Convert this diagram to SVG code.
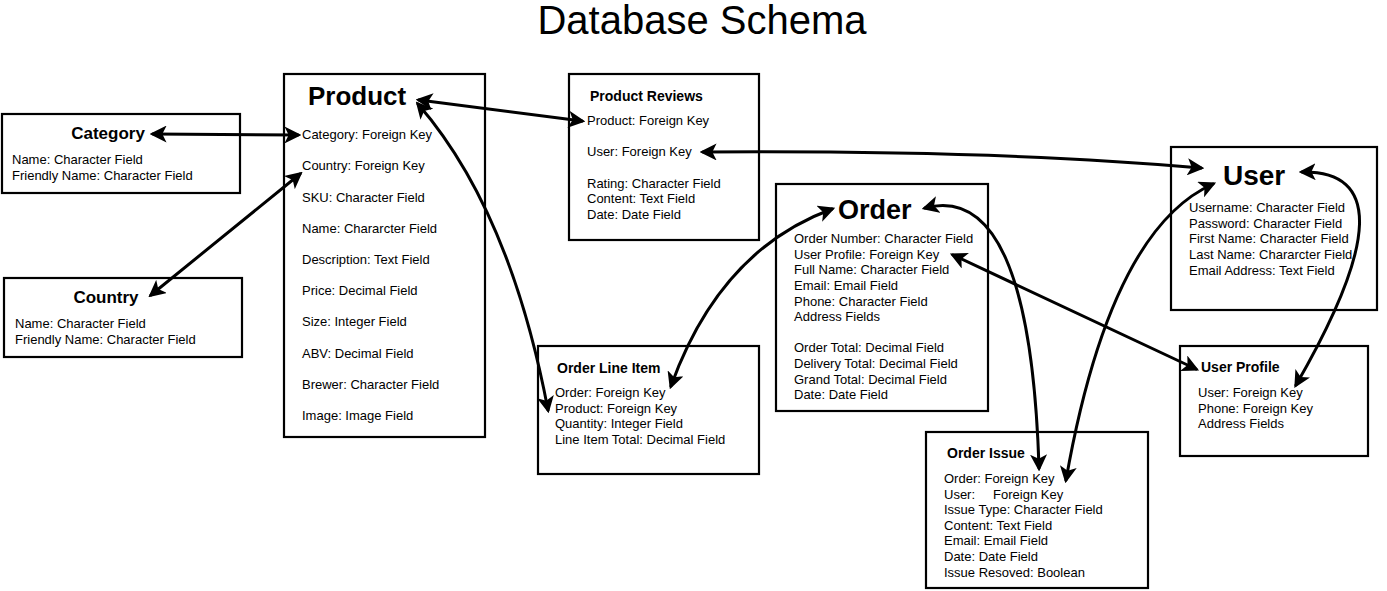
<svg xmlns="http://www.w3.org/2000/svg" width="1387" height="591" viewBox="0 0 1387 591">
<style>
.box{fill:#fff;stroke:#000;stroke-width:2.2}
text{font-family:"Liberation Sans",Arial,sans-serif;fill:#000}
.f{font-size:13px}
.h{font-weight:bold;font-size:14px}
.big{font-weight:bold;font-size:27px}
.mid{font-weight:bold;font-size:17px}
.c{fill:none;stroke:#000;stroke-width:3;stroke-linecap:round}
</style>
<defs>
<marker id="ah" viewBox="0 0 10 10" refX="8" refY="5" markerUnits="userSpaceOnUse" markerWidth="17" markerHeight="17" orient="auto-start-reverse">
<path d="M0,0 L10,5 L0,10 L2.5,5 Z" fill="#000"/>
</marker>
</defs>
<text x="702" y="34" text-anchor="middle" style="font-size:40px">Database Schema</text>

<g id="category">
<rect class="box" x="2" y="114" width="238" height="79"/>
<text class="mid" x="108" y="139" text-anchor="middle">Category</text>
<text class="f" x="12" y="164">Name: Character Field</text>
<text class="f" x="12" y="180">Friendly Name: Character Field</text>
</g>

<g id="country">
<rect class="box" x="4" y="278" width="238" height="79"/>
<text class="mid" x="106" y="303" text-anchor="middle">Country</text>
<text class="f" x="15" y="328">Name: Character Field</text>
<text class="f" x="15" y="344">Friendly Name: Character Field</text>
</g>

<g id="product">
<rect class="box" x="284" y="74" width="201" height="363"/>
<text class="big" x="308" y="105" style="font-size:26px">Product</text>
<text class="f" x="302" y="139">Category: Foreign Key</text>
<text class="f" x="302" y="170">Country: Foreign Key</text>
<text class="f" x="302" y="202">SKU: Character Field</text>
<text class="f" x="302" y="233">Name: Chararcter Field</text>
<text class="f" x="302" y="264">Description: Text Field</text>
<text class="f" x="302" y="295">Price: Decimal Field</text>
<text class="f" x="302" y="326">Size: Integer Field</text>
<text class="f" x="302" y="358">ABV: Decimal Field</text>
<text class="f" x="302" y="389">Brewer: Character Field</text>
<text class="f" x="302" y="420">Image: Image Field</text>
</g>

<g id="product-reviews">
<rect class="box" x="569" y="74" width="190" height="166"/>
<text class="h" x="590" y="101">Product Reviews</text>
<text class="f" x="587" y="125">Product: Foreign Key</text>
<text class="f" x="587" y="156">User: Foreign Key</text>
<text class="f" x="587" y="188">Rating: Character Field</text>
<text class="f" x="587" y="203">Content: Text Field</text>
<text class="f" x="587" y="219">Date: Date Field</text>
</g>

<g id="order">
<rect class="box" x="776" y="184" width="212" height="227"/>
<text class="big" x="838" y="219">Order</text>
<text class="f" x="794" y="243">Order Number: Character Field</text>
<text class="f" x="794" y="259">User Profile: Foreign Key</text>
<text class="f" x="794" y="274">Full Name: Character Field</text>
<text class="f" x="794" y="290">Email: Email Field</text>
<text class="f" x="794" y="306">Phone: Character Field</text>
<text class="f" x="794" y="321">Address Fields</text>
<text class="f" x="794" y="352">Order Total: Decimal Field</text>
<text class="f" x="794" y="368">Delivery Total: Decimal Field</text>
<text class="f" x="794" y="384">Grand Total: Decimal Field</text>
<text class="f" x="794" y="399">Date: Date Field</text>
</g>

<g id="order-line-item">
<rect class="box" x="538" y="346" width="221" height="128"/>
<text class="h" x="557" y="373">Order Line Item</text>
<text class="f" x="555" y="397">Order: Foreign Key</text>
<text class="f" x="555" y="413">Product: Foreign Key</text>
<text class="f" x="555" y="428">Quantity: Integer Field</text>
<text class="f" x="555" y="444">Line Item Total: Decimal Field</text>
</g>

<g id="user">
<rect class="box" x="1171" y="147" width="206" height="163"/>
<text class="big" x="1223" y="185" style="font-size:28px">User</text>
<text class="f" x="1189" y="212">Username: Character Field</text>
<text class="f" x="1189" y="228">Password: Character Field</text>
<text class="f" x="1189" y="243">First Name: Character Field</text>
<text class="f" x="1189" y="259">Last Name: Chararcter Field</text>
<text class="f" x="1189" y="275">Email Address: Text Field</text>
</g>

<g id="user-profile">
<rect class="box" x="1180" y="346" width="188" height="110"/>
<text class="h" x="1201" y="372">User Profile</text>
<text class="f" x="1198" y="397">User: Foreign Key</text>
<text class="f" x="1198" y="413">Phone: Foreign Key</text>
<text class="f" x="1198" y="428">Address Fields</text>
</g>

<g id="order-issue">
<rect class="box" x="926" y="432" width="222" height="156"/>
<text class="h" x="947" y="458">Order Issue</text>
<text class="f" x="944" y="483">Order: Foreign Key</text>
<text class="f" x="944" y="499" style="white-space:pre">User:     Foreign Key</text>
<text class="f" x="944" y="514">Issue Type: Character Field</text>
<text class="f" x="944" y="530">Content: Text Field</text>
<text class="f" x="944" y="545">Email: Email Field</text>
<text class="f" x="944" y="561">Date: Date Field</text>
<text class="f" x="944" y="577">Issue Resoved: Boolean</text>
</g>

<g id="connectors">
<path class="c" d="M153,134 L298,135" marker-start="url(#ah)" marker-end="url(#ah)"/>
<path class="c" d="M151,295 L300,174" marker-start="url(#ah)" marker-end="url(#ah)"/>
<path class="c" d="M419,100 L582,121" marker-start="url(#ah)" marker-end="url(#ah)"/>
<path class="c" d="M418,104 Q510,210 548,410" marker-start="url(#ah)" marker-end="url(#ah)"/>
<path class="c" d="M703,152 Q1000,150 1201,168" marker-start="url(#ah)" marker-end="url(#ah)"/>
<path class="c" d="M832,209 Q720,250 671,386" marker-start="url(#ah)" marker-end="url(#ah)"/>
<path class="c" d="M925,208 Q1030,180 1039,468" marker-start="url(#ah)" marker-end="url(#ah)"/>
<path class="c" d="M953,255 L1196,369" marker-start="url(#ah)" marker-end="url(#ah)"/>
<path class="c" d="M1213,184 Q1110,230 1066,480" marker-start="url(#ah)" marker-end="url(#ah)"/>
<path class="c" d="M1302,172 Q1420,170 1296,385" marker-start="url(#ah)" marker-end="url(#ah)"/>
</g>
</svg>
